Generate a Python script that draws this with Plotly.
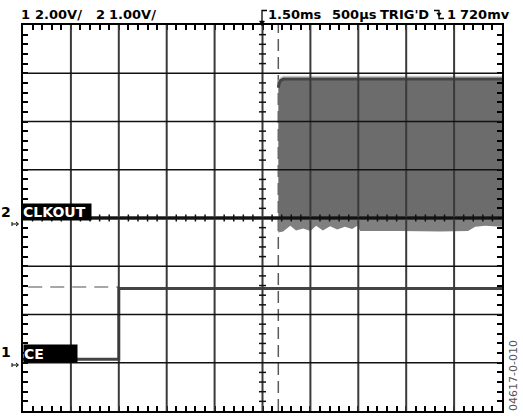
import numpy as np
import plotly.graph_objects as go

# ---- Data (screen divisions: 10 horiz @ 500 us/div, 8 vert) ----
# Channel 2: CLKOUT, 1.00 V/div, ground reference at 4.0 div
clk_base_t = [0.0, 10.0]
clk_base_v = [4.0, 4.0]
clk_env_t = [5.33, 5.35, 5.38, 5.44, 10.0]
clk_env_hi = [6.70, 6.80, 6.85, 6.88, 6.88]
clk_lo_t = [5.33, 5.43, 5.58, 5.70, 5.85, 6.00, 6.12, 6.26, 6.41, 6.56, 6.72,
            6.87, 6.98, 7.04, 7.87, 8.71, 9.29, 9.44, 9.65, 10.0]
clk_lo_v = [3.70, 3.72, 3.84, 3.74, 3.78, 3.73, 3.84, 3.74, 3.83, 3.76, 3.82,
            3.77, 3.84, 3.73, 3.73, 3.72, 3.73, 3.82, 3.84, 3.82]

# Channel 1: CE, 2.00 V/div, ground reference at 1.0 div
ce_t = [0.0, 2.0, 2.0, 10.0]
ce_v = [1.07, 1.07, 2.54, 2.54]
ref_t = [0.11, 1.99]
ref_v = [2.57, 2.57]
trig_t = 5.33

header_left = ["1", "2.00V/", "2", "1.00V/"]
header_right = ["1.50ms", "500\u00b5s", "TRIG'D", "1", "720mv"]
ch_labels = ["CLKOUT", "CE"]
fig_id = "04617-0-010"

# ---- Layout geometry ----
W, H = 523, 417
L, R, T, B = 23, 21, 25, 6
PW, PH = W - L - R, H - T - B
DX, DY = PW / 10.0, PH / 8.0


def PXx(px):
    return (px - L) / PW


def PXy(py):
    return (H - B - py) / PH


BFONT = "DejaVu Sans"

fig = go.Figure()

# trigger position (dashed)
fig.add_trace(go.Scatter(x=[trig_t, trig_t], y=[0, 8], mode="lines",
                         line=dict(color="#5a5a5a", width=1.5, dash="12px,6px"),
                         hoverinfo="skip"))
# reference dashed
fig.add_trace(go.Scatter(x=ref_t, y=ref_v, mode="lines",
                         line=dict(color="#8a8a8a", width=1.5, dash="14px,8px"),
                         hoverinfo="skip"))

# clock band (upper part)
band_x = list(clk_env_t) + [10.0, clk_env_t[0]]
band_y = list(clk_env_hi) + [4.0, 4.0]
fig.add_trace(go.Scatter(x=band_x, y=band_y, mode="lines", fill="toself",
                         fillcolor="#6c6c6c", line=dict(width=0), hoverinfo="skip"))
# undershoot part
us_x = list(clk_lo_t) + [10.0, clk_lo_t[0]]
us_y = list(clk_lo_v) + [4.0, 4.0]
fig.add_trace(go.Scatter(x=us_x, y=us_y, mode="lines", fill="toself",
                         fillcolor="#808080", line=dict(width=0), hoverinfo="skip"))
# top edge of the clock envelope
fig.add_trace(go.Scatter(x=clk_env_t, y=[v + 0.045 for v in clk_env_hi], mode="lines",
                         line=dict(color="#c8c8c8", width=2), hoverinfo="skip"))
fig.add_trace(go.Scatter(x=clk_env_t, y=clk_env_hi, mode="lines",
                         line=dict(color="#454545", width=3), hoverinfo="skip"))
# CLKOUT low level
fig.add_trace(go.Scatter(x=clk_base_t, y=clk_base_v, mode="lines",
                         line=dict(color="#1e1e1e", width=3.5), hoverinfo="skip"))
# CE trace
fig.add_trace(go.Scatter(x=ce_t, y=ce_v, mode="lines",
                         line=dict(color="#444444", width=3), hoverinfo="skip"))

shapes = []
# graticule grid (above traces)
for i in range(1, 10):
    shapes.append(dict(type="line", xref="x", yref="y", x0=i, x1=i, y0=0, y1=8,
                       line=dict(color="#3a3a3a", width=2), layer="above"))
for j in range(1, 8):
    shapes.append(dict(type="line", xref="x", yref="y", x0=0, x1=10, y0=j, y1=j,
                       line=dict(color="#111111", width=1.5), layer="above"))
# center cross ticks
hx = 3.5 / DX
hy = 3.5 / DY
for k in range(1, 40):
    v = k * 0.2
    if abs(v - round(v)) < 1e-6:
        continue
    shapes.append(dict(type="line", xref="x", yref="y", x0=5 - hx, x1=5 + hx, y0=v, y1=v,
                       line=dict(color="#111111", width=1.5), layer="above"))
for k in range(1, 50):
    v = k * 0.2
    if abs(v - round(v)) < 1e-6:
        continue
    shapes.append(dict(type="line", xref="x", yref="y", x0=v, x1=v, y0=4 - hy, y1=4 + hy,
                       line=dict(color="#111111", width=1.5), layer="above"))


def ppath(points, fill=None, width=1.3):
    d = "M " + " L ".join("%.5f,%.5f" % (PXx(a), PXy(b)) for a, b in points)
    if fill:
        d += " Z"
    return dict(type="path", xref="paper", yref="paper", path=d,
                line=dict(color="black", width=width),
                fillcolor=fill if fill else "rgba(0,0,0,0)", layer="above")


# trigger position marker in header
shapes.append(ppath([(267, 10.5), (262, 10.5), (262, 22)]))
shapes.append(ppath([(259.5, 21), (264.5, 21), (262, 26)], fill="black", width=0.5))
# falling edge trigger symbol
shapes.append(ppath([(434, 10.5), (439, 10.5), (439, 18.5), (444, 18.5)]))
shapes.append(ppath([(436.8, 13), (441.2, 13), (439, 16.5)], fill="black", width=0.5))
# ground markers
for gy in (224, 365):
    shapes.append(ppath([(12, gy - 2), (12, gy + 2)], width=1))
    shapes.append(ppath([(12, gy), (18, gy)], width=1))
    shapes.append(ppath([(16, gy - 2), (18.5, gy), (16, gy + 2)], width=1))


def ann(px, py, text, **kw):
    d = dict(x=PXx(px), y=PXy(py), xref="paper", yref="paper", text=text,
             showarrow=False, xanchor="left", yanchor="middle")
    d.update(kw)
    return d


hfont = dict(family=BFONT, size=13, color="black")
annotations = []
for txt, xp in zip(header_left, [19, 33, 94, 107]):
    annotations.append(ann(xp, 15, "<b>" + txt + "</b>", font=hfont))
for txt, xp in zip(header_right, [266, 330, 378, 445, 458]):
    annotations.append(ann(xp, 15, "<b>" + txt + "</b>", font=hfont))

lfont = dict(family=BFONT, size=14, color="black")
annotations += [
    ann(13, 212, "<b>2</b>", xanchor="right", font=lfont),
    ann(22, 211.5, "<b>" + ch_labels[0] + "</b>", bgcolor="black", width=68,
        height=16, align="left", borderpad=0,
        font=dict(family=BFONT, size=14, color="white")),
    ann(13, 352, "<b>1</b>", xanchor="right", font=lfont),
    ann(23, 353.5, "<b>" + ch_labels[1] + "</b>", bgcolor="black", width=53,
        height=17, align="left", borderpad=0,
        font=dict(family=BFONT, size=14, color="white")),
    ann(513, 376, fig_id, textangle=-90, xanchor="center",
        font=dict(family="DejaVu Sans", size=11, color="#555555")),
]

axis_common = dict(showgrid=False, zeroline=False, showticklabels=False,
                   showline=True, linecolor="black", linewidth=2, mirror="ticks",
                   ticks="inside", ticklen=5, tickwidth=1.5, tickcolor="black",
                   tick0=0, dtick=1, fixedrange=True,
                   minor=dict(ticks="inside", ticklen=5, tickwidth=1.5,
                              tickcolor="black", dtick=0.2, tick0=0, showgrid=False))

fig.update_layout(
    width=W, height=H, margin=dict(l=L, r=R, t=T, b=B, pad=0),
    paper_bgcolor="white", plot_bgcolor="white", showlegend=False,
    xaxis=dict(range=[0, 10], **axis_common),
    yaxis=dict(range=[0, 8], **axis_common),
    shapes=shapes, annotations=annotations,
)

fig.write_html("out.html", config={"displayModeBar": False},
               post_script="document.body.style.margin='0';document.body.style.overflow='hidden';")
